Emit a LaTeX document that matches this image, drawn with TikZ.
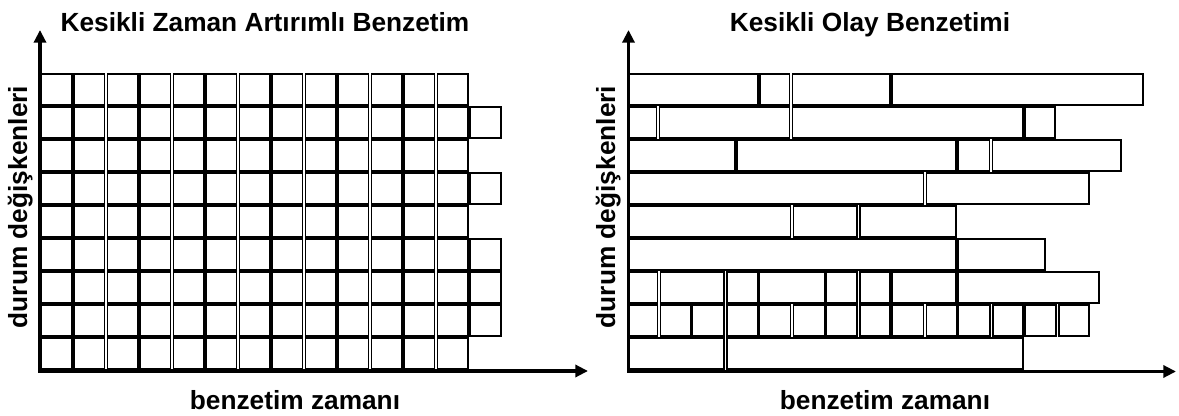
\documentclass[tikz,border=0pt]{standalone}
\usepackage{fontspec}
\setmainfont{Liberation Sans}
\usetikzlibrary{arrows.meta}
% one row of boxes: #1 = top edge, #2 = list of left/right edges
\newcommand\boxrow[2]{%
  \foreach \a/\b in {#2} {\draw[cellbox] (\a+0.8,#1+0.8) rectangle (\b-0.8,#1+32.2);}}
\begin{document}
\begin{tikzpicture}[x=0.75pt,y=-0.75pt,
  axisline/.style={line width=2.5pt, line join=miter,
    {Triangle[length=9.5pt,width=9pt]}-{Triangle[length=9.5pt,width=9pt]}},
  cellbox/.style={draw=black, line width=1.2pt},
  txt/.style={font=\bfseries\fontsize{19.7}{22}\selectfont, inner sep=0pt}]
\useasboundingbox (0,0) rectangle (1179,416);

% ---- time-stepped grid ----
\foreach \j in {0,...,8} {
  \pgfmathsetmacro\yt{73+33*\j}
  \boxrow{\yt}{40/73, 73/105.2, 106.8/139, 139/171.2, 172.8/205, 205/237.2,
    238.8/271, 271/303.2, 304.8/337, 337/369.2, 370.8/403, 403/435.2, 436.8/469}
}
\foreach \j in {1,3,5,6,7} {
  \pgfmathsetmacro\yt{73+33*\j}
  \boxrow{\yt}{469/502}
}

% ---- event-driven rows ----
\boxrow{73}{628/759, 759/790.2, 791.8/891, 891/1144}
\boxrow{106}{628/657.2, 658.8/790.2, 791.8/1024, 1024/1056}
\boxrow{139}{628/736, 736/957, 957/990.2, 991.8/1122}
\boxrow{172}{628/924.2, 925.8/1090}
\boxrow{205}{628/791.2, 792.8/857.7, 859.3/957}
\boxrow{238}{628/957, 957/1046}
\boxrow{271}{628/658.2, 659.8/724.7, 726.3/758.5, 758.5/825.5, 825.5/857.7,
  859.3/891, 891/957, 957/1100}
\boxrow{304}{628/658.2, 659.8/691.5, 691.5/724.7, 726.3/758.5, 758.5/791.2,
  792.8/825.5, 825.5/857.7, 859.3/891, 891/924.2, 925.8/957.5, 957.5/990.7,
  992.3/1024, 1024/1056.7, 1058.3/1090}
\boxrow{337}{628/724.7, 726.3/1024}

% ---- axes ----
\coordinate (ltop) at (40,30);
\coordinate (lend) at (588,371);
\coordinate (rtop) at (628.5,30);
\coordinate (rend) at (1176,371.5);
\draw[axisline] (ltop) |- (lend);
\draw[axisline] (rtop) |- (rend);

% ---- labels ----
\node[txt, anchor=base] (ltitle) at (265,32) {Kesikli Zaman Artırımlı Benzetim};
\node[txt, anchor=base] (rtitle) at (870,32) {Kesikli Olay Benzetimi};
\node[txt, anchor=base] (lxlab) at (295,410) {benzetim zamanı};
\node[txt, anchor=base] (rxlab) at (885,410) {benzetim zamanı};
\node[txt, anchor=base, rotate=90] (lylab) at (27,207) {durum değişkenleri};
\node[txt, anchor=base, rotate=90] (rylab) at (615,207) {durum değişkenleri};
\end{tikzpicture}
\end{document}
